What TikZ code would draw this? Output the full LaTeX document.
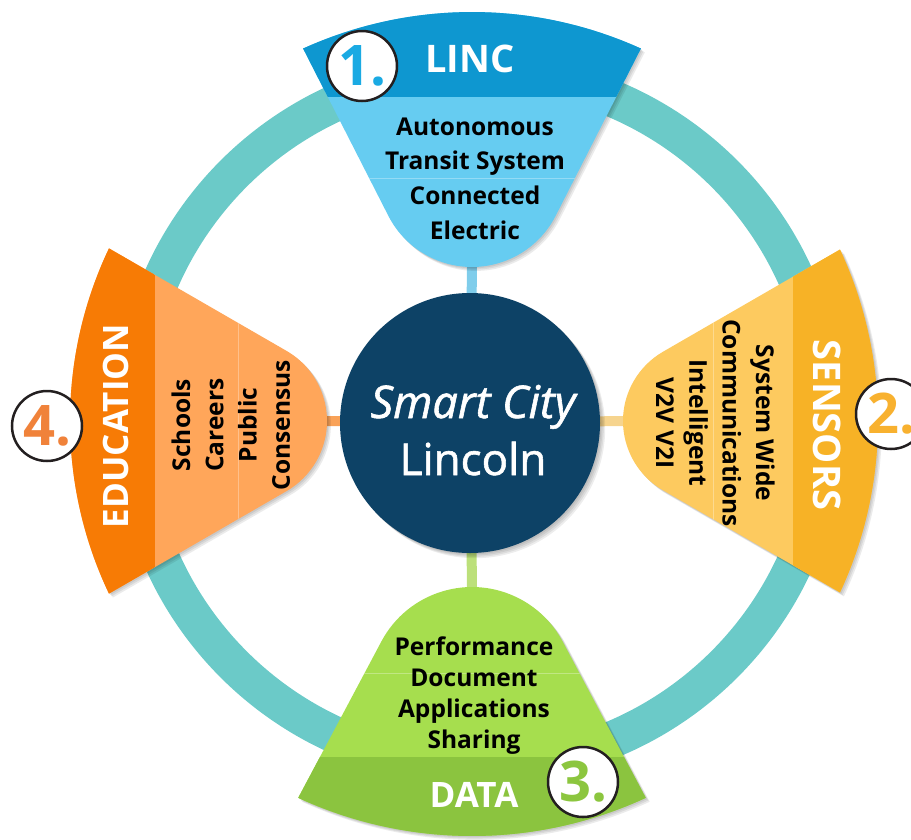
\documentclass[tikz,border=0pt]{standalone}
\usepackage{fontspec}
\setmainfont{Open Sans}
\newfontfamily\hubfont[FakeBold=1.3]{Open Sans}
\usetikzlibrary{calc}

\definecolor{ringteal}{HTML}{6BCAC8}
\definecolor{hubblue}{HTML}{0D4266}
\definecolor{lincdark}{HTML}{0E97D0}
\definecolor{linclight}{HTML}{66CCF1}
\definecolor{sensdark}{HTML}{F7B226}
\definecolor{senslight}{HTML}{FDCA5F}
\definecolor{datadark}{HTML}{8BC43F}
\definecolor{datalight}{HTML}{A6DE4E}
\definecolor{edudark}{HTML}{F77B05}
\definecolor{edulight}{HTML}{FFA65A}
\definecolor{numblue}{HTML}{1AAAE3}
\definecolor{numyellow}{HTML}{F8B12F}
\definecolor{numgreen}{HTML}{8CC63F}
\definecolor{numorange}{HTML}{F0823A}
\definecolor{numedge}{HTML}{231F20}
\definecolor{stubblue}{HTML}{7FCDEB}
\definecolor{stubyellow}{HTML}{F6D48E}
\definecolor{stubgreen}{HTML}{BCE07A}
\definecolor{stuborange}{HTML}{F9A258}

\tikzset{
  item/.style={font=\fontsize{24.5}{29}\selectfont\bfseries, text=black, inner sep=0, anchor=base},
  title/.style={font=\fontsize{38}{44}\selectfont\bfseries, text=white, inner sep=0, anchor=base},
  numring/.style={circle, draw=numedge, line width=2.5, fill=white, minimum size=70, inner sep=0,
    font=\fontsize{56}{60}\selectfont\bfseries},
  stub/.style={line width=10},
  hubtext/.style={font=\hubfont\fontsize{44}{50}\selectfont, text=white, inner sep=0, anchor=base},
}

% One petal: a wedge with a rounded inner tip and an outer arc, split into a
% light body and a darker outer band.
% #1 direction, #2 half angle, #3 apex offset, #4 outer radius, #5 tip distance,
% #6 band start, #7 seam, #8 light colour, #9 dark colour
\newcommand\petal[9]{%
  \pgfmathsetmacro\pd{(#5-#3)/(1-sin(#2))}%
  \pgfmathsetmacro\pr{\pd*sin(#2)}%
  \pgfmathsetmacro\ps{-#3*cos(#2)+100*sqrt((#4/100)^2-(#3/100*sin(#2))^2)}%
  \pgfmathsetmacro\pphi{atan2(\ps*sin(#2),#3+\ps*cos(#2))}%
  \pgfmathsetmacro\tx{#3+\pd+\pr*cos(90+#2)}%
  \pgfmathsetmacro\ty{\pr*sin(90+#2)}%
  \def\petalpath{(-\pphi:#4) arc[start angle=-\pphi, end angle=\pphi, radius=#4]
    -- (\tx,\ty) arc[start angle=90+#2, end angle=270-#2, radius=\pr] -- cycle}%
  \foreach \k in {1,2,3}{%
    \begin{scope}[shift={(472+1.3*\k,421+1.3*\k)}, rotate=#1]
      \fill[black, opacity=0.08] \petalpath;
    \end{scope}}%
  \begin{scope}[shift={(472,421)}, rotate=#1]
    \fill[#8] \petalpath;
    \begin{scope}
      \clip \petalpath;
      \fill[#9] (#6,-500) rectangle (500,500);
      \draw[white, opacity=0.3, line width=1] (#7,-500) -- (#7,500);
    \end{scope}
  \end{scope}%
}

\begin{document}
\begin{tikzpicture}[x=1pt, y=-1pt]
  \useasboundingbox (0,0) rectangle (911,839);
  \clip (0,0) rectangle (911,839);

  % outer ring
  \draw[ringteal, line width=37] (479,419) circle[radius=347];

  % spokes from the hub to the petal tips
  \coordinate (hubc) at (470,423);
  \coordinate (linctip) at (472,267);
  \coordinate (senstip) at (623,421);
  \coordinate (datatip) at (472,587);
  \coordinate (edutip) at (327,421);
  \draw[stub, stubblue] (hubc) -- (linctip);
  \draw[stub, stubyellow] (hubc) -- (senstip);
  \draw[stub, stubgreen] (hubc) -- (datatip);
  \draw[stub, stuborange] (hubc) -- (edutip);

  % petals
  \petal{90}{27}{41}{409}{154}{324}{243}{linclight}{lincdark}
  \petal{0}{30}{71}{406}{151}{321}{241}{senslight}{sensdark}
  \petal{270}{28}{50}{415}{166}{336}{252}{datalight}{datadark}
  \petal{180}{30}{64}{402}{145}{317}{234}{edulight}{edudark}

  % hub with a soft shadow
  \foreach \k in {1,...,4}
    \fill[black, opacity=0.07] (470+1.3*\k,423+1.3*\k) circle[radius=130];
  \node[circle, fill=hubblue, minimum size=260, inner sep=0] (hub) at (hubc) {};
  \node[hubtext, font=\hubfont\fontsize{45}{50}\selectfont\itshape] (smart) at (473,418) {Smart City};
  \node[hubtext] (lincoln) at (473,475) {Lincoln};

  % titles
  \node[title] (linc) at (470,72) {LINC};
  \node[title, rotate=-90] (sensors) at (813,425) {SENSORS};
  \node[title, font=\fontsize{35}{40}\selectfont\bfseries] (data) at (474,807) {DATA};
  \node[title, font=\fontsize{35}{40}\selectfont\bfseries, rotate=90] (education) at (128,426) {EDUCATION};

  % items
  \foreach \t [count=\i] in {Autonomous, Transit System, Connected, Electric}
    \node[item] (linc-\i) at (475,{135+34.7*(\i-1)}) {\t};
  \foreach \t [count=\i] in {System Wide, Communications, Intelligent, V2V V2I}
    \node[item, rotate=-90] (sens-\i) at ({756-33.3*(\i-1)},423) {\t};
  \foreach \t [count=\i] in {Performance, Document, Applications, Sharing}
    \node[item] (data-\i) at (474,{655+31*(\i-1)}) {\t};
  \foreach \t [count=\i] in {Schools, Careers, Public, Consensus}
    \node[item, rotate=90] (edu-\i) at ({190+33.3*(\i-1)},425) {\t};

  % numbered badges
  \node[numring, text=numblue] (num1) at (362,66) {1.};
  \node[numring, text=numyellow] (num2) at (891,414) {2.};
  \node[numring, text=numgreen] (num3) at (583,782) {3.};
  \node[numring, text=numorange] (num4) at (47,426) {4.};
\end{tikzpicture}
\end{document}
